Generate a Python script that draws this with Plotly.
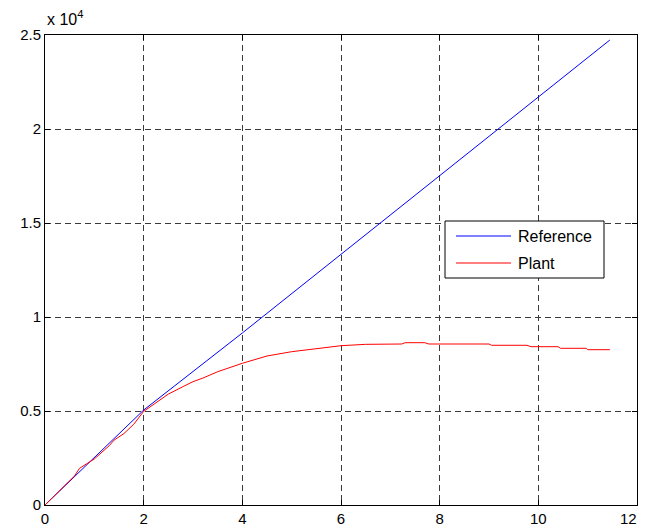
import plotly.graph_objects as go

# Reference signal
ref_t = [0, 2, 4, 6, 8, 10, 11.45]
ref_y = [0, 5050, 9150, 13330, 17520, 21720, 24734]

# Plant response
plant_t = [0, 0.3, 0.6, 0.7, 1.0, 1.3, 1.4, 1.6, 1.8, 2.0, 2.3, 2.5, 2.8, 3.0, 3.2, 3.5,
           4.0, 4.5, 5.0, 5.5, 6.0, 6.5, 7.0, 7.23, 7.3, 7.7, 7.78, 9.0, 9.05, 9.77,
           9.85, 10.4, 10.45, 10.97, 11.0, 11.45]
plant_y = [0, 750, 1550, 1950, 2450, 3150, 3450, 3800, 4300, 4980, 5550, 5900, 6300, 6560,
           6750, 7090, 7537, 7926, 8155, 8333, 8473, 8546, 8564, 8564, 8633, 8633, 8564,
           8564, 8495, 8495, 8420, 8420, 8335, 8335, 8261, 8261]

x_ticks = [0, 2, 4, 6, 8, 10, 12]
x_tick_text = ["0", "2", "4", "6", "8", "10", "12"]
y_ticks = [0, 5000, 10000, 15000, 20000, 25000]
y_tick_text = ["0", "0.5", "1", "1.5", "2", "2.5"]

legend_names = ["Reference", "Plant"]
colors = ["#0000ff", "#ff0000"]

FONT = "Liberation Sans, Arial, sans-serif"

# page body adds an 8px offset; figure is sized/shifted to compensate
OFF = 8
FIG_W, FIG_H = 648 - OFF, 531 - OFF
PL, PR, PT, PB = 45, 637, 35, 505   # plot area in window pixels
L, T, R = PL - OFF, PT - OFF, (OFF + FIG_W) - PR
B = (OFF + FIG_H) - PB

fig = go.Figure()
fig.add_trace(go.Scatter(x=ref_t, y=ref_y, mode="lines", name=legend_names[0],
                         line=dict(color=colors[0], width=1)))
fig.add_trace(go.Scatter(x=plant_t, y=plant_y, mode="lines", name=legend_names[1],
                         line=dict(color=colors[1], width=1)))

axis_common = dict(
    showline=True, linecolor="black", linewidth=1, mirror="ticks",
    ticks="inside", ticklen=5, tickcolor="black", tickwidth=1,
    showgrid=True, gridcolor="#3a3a3a", gridwidth=1, griddash="6px,4px",
    zeroline=False, automargin=False, ticklabeloverflow="allow",
    tickfont=dict(family=FONT, size=15, color="black"),
)

# last x label is drawn as an annotation so it stays inside the visible page
fig.update_layout(
    width=FIG_W, height=FIG_H,
    margin=dict(l=L, r=R, t=T, b=B, autoexpand=False),
    paper_bgcolor="white", plot_bgcolor="white",
    showlegend=False,
    xaxis=dict(range=[0, 12], tickvals=x_ticks, ticktext=x_tick_text[:-1] + [""], **axis_common),
    yaxis=dict(range=[0, 25000], tickvals=y_ticks, ticktext=y_tick_text, **axis_common),
)

W, H = float(PR - PL), float(PB - PT)
def px(xp):
    return (xp - PL) / W
def py(yp):
    return (PB - yp) / H

fig.add_annotation(xref="paper", yref="paper", x=px(639), y=py(519),
                   xanchor="right", yanchor="middle", showarrow=False,
                   text=x_tick_text[-1], font=dict(family=FONT, size=15, color="black"))

# exponent label
fig.add_annotation(xref="paper", yref="paper", x=0.0, y=1.0 + 5 / H,
                   xanchor="left", yanchor="bottom", showarrow=False,
                   text="x 10<sup>4</sup>", font=dict(family=FONT, size=16, color="black"))

# manual legend (box in paper coords, window pixel positions)
fig.add_shape(type="rect", xref="paper", yref="paper",
              x0=px(445), x1=px(604), y0=py(278), y1=py(221),
              line=dict(color="black", width=1), fillcolor="white", layer="above")
rows_y = [236, 263]
for name, col, yy in zip(legend_names, colors, rows_y):
    fig.add_shape(type="line", xref="paper", yref="paper",
                  x0=px(456), x1=px(511), y0=py(yy), y1=py(yy),
                  line=dict(color=col, width=1), layer="above")
    fig.add_annotation(xref="paper", yref="paper", x=px(516), y=py(yy),
                       xanchor="left", yanchor="middle", showarrow=False,
                       text=name, font=dict(family=FONT, size=16, color="black"))

fig.write_html("out.html", default_width=f"{FIG_W}px", default_height=f"{FIG_H}px")
